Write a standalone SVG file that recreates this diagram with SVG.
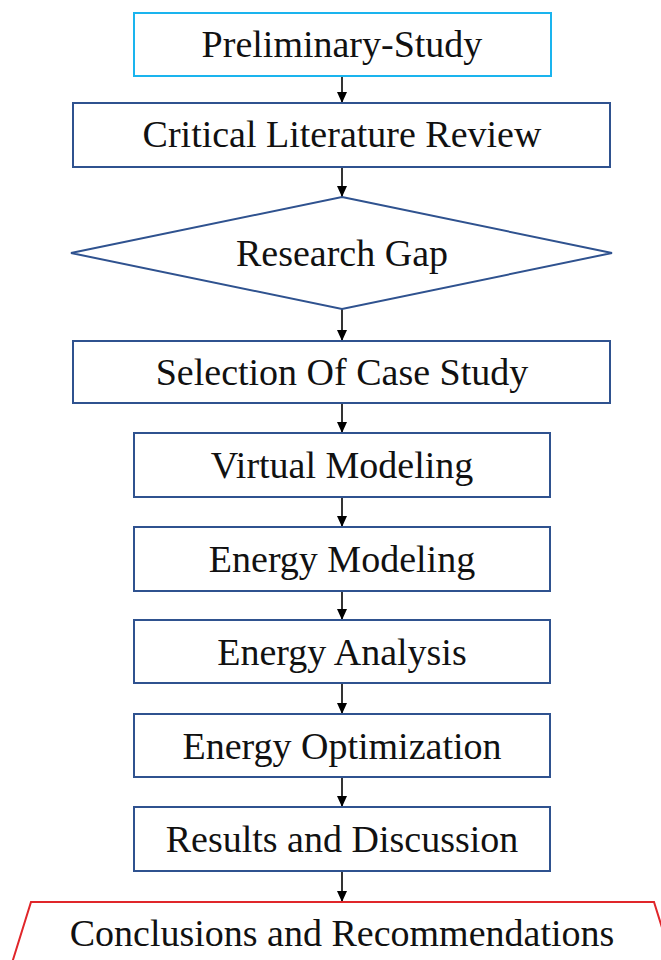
<svg xmlns="http://www.w3.org/2000/svg" width="661" height="960" viewBox="0 0 661 960">
<defs>
<marker id="arr" viewBox="0 0 11 10" refX="11" refY="5" markerWidth="11" markerHeight="10" markerUnits="userSpaceOnUse" orient="auto">
<path d="M0,0 L11,5 L0,10 z" fill="#000"/>
</marker>
<style>
.box{fill:#fff;stroke:#2f528f;stroke-width:2}
.start{fill:#fff;stroke:#1ab4ee;stroke-width:2}
.end{fill:#fff;stroke:#e0262a;stroke-width:2}
.lbl{font-family:"Liberation Serif","Times New Roman",serif;font-size:38px;fill:#111;text-anchor:middle}
.con{stroke:#000;stroke-width:1.6;fill:none;marker-end:url(#arr)}
</style>
</defs>
<rect width="661" height="960" fill="#fff"/>
<g id="connectors">
<line class="con" x1="342" y1="76" x2="342" y2="103"/>
<line class="con" x1="342" y1="167" x2="342" y2="197"/>
<line class="con" x1="342" y1="309" x2="342" y2="341"/>
<line class="con" x1="342" y1="403" x2="342" y2="433"/>
<line class="con" x1="342" y1="497" x2="342" y2="527"/>
<line class="con" x1="342" y1="591" x2="342" y2="620"/>
<line class="con" x1="342" y1="683" x2="342" y2="714"/>
<line class="con" x1="342" y1="777" x2="342" y2="807"/>
<line class="con" x1="342" y1="871" x2="342" y2="902"/>
</g>
<g id="preliminary">
<rect class="start" x="134" y="13" width="417" height="63"/>
<text class="lbl" x="342" y="57">Preliminary-Study</text>
</g>
<g id="literature">
<rect class="box" x="73" y="103" width="537" height="64"/>
<text class="lbl" x="342" y="147">Critical Literature Review</text>
</g>
<g id="gap">
<polygon class="box" points="342,197 612,253 342,309 71,253"/>
<text class="lbl" x="342" y="266">Research Gap</text>
</g>
<g id="selection">
<rect class="box" x="73" y="341" width="537" height="62"/>
<text class="lbl" x="342" y="385">Selection Of Case Study</text>
</g>
<g id="virtual">
<rect class="box" x="134" y="433" width="416" height="64"/>
<text class="lbl" x="342" y="478">Virtual Modeling</text>
</g>
<g id="energy-modeling">
<rect class="box" x="134" y="527" width="416" height="64"/>
<text class="lbl" x="342" y="572">Energy Modeling</text>
</g>
<g id="energy-analysis">
<rect class="box" x="134" y="620" width="416" height="63"/>
<text class="lbl" x="342" y="665">Energy Analysis</text>
</g>
<g id="energy-optimization">
<rect class="box" x="134" y="714" width="416" height="63"/>
<text class="lbl" x="342" y="759">Energy Optimization</text>
</g>
<g id="results">
<rect class="box" x="134" y="807" width="416" height="64"/>
<text class="lbl" x="342" y="852">Results and Discussion</text>
</g>
<g id="conclusions">
<path class="end" d="M12,963 L31,902 L654,902 L673,963"/>
<text class="lbl" x="342" y="946">Conclusions and Recommendations</text>
</g>
</svg>
